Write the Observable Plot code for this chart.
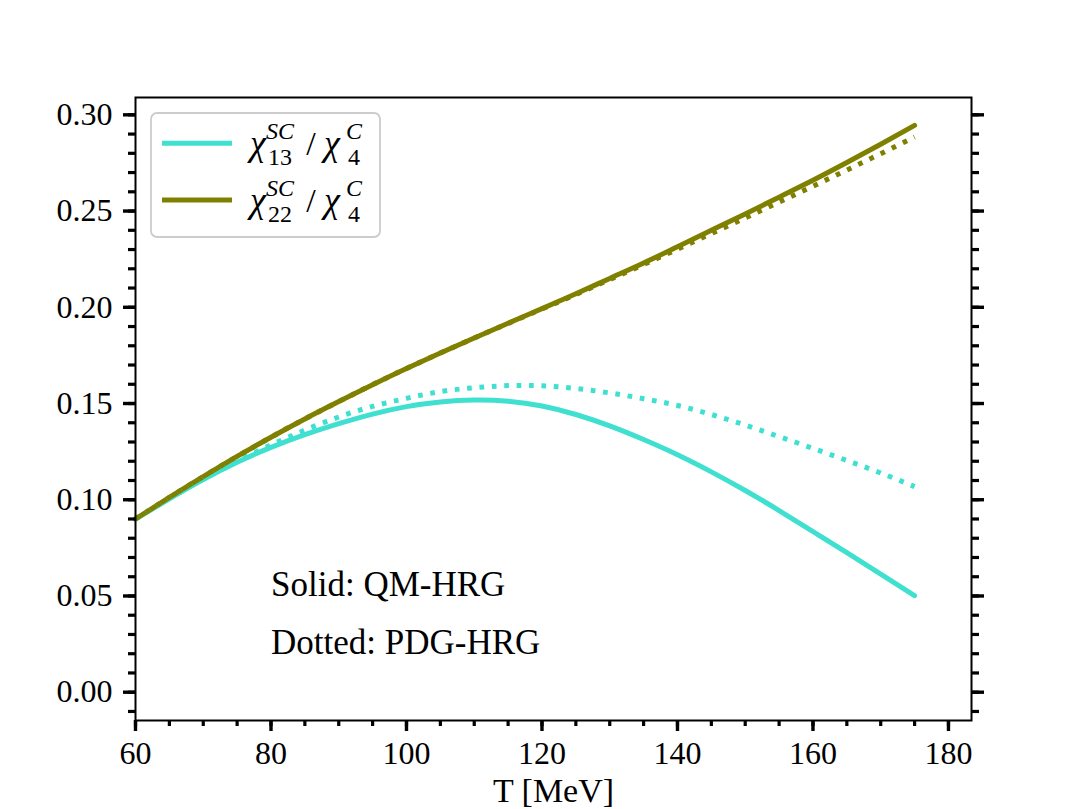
<!DOCTYPE html>
<html>
<head>
<meta charset="utf-8">
<script src="https://cdn.jsdelivr.net/npm/d3@7"></script>
<script src="https://cdn.jsdelivr.net/npm/@observablehq/plot@0.6"></script>
<style>
  html, body { margin: 0; padding: 0; background: white; overflow: hidden; }
  #chart { width: 1079px; height: 809px; }
</style>
</head>
<body>
<div id="chart"></div>
<script>
// ---- data ----
const T = [60,65,70,75,80,85,90,95,100,105,110,115,120,125,130,135,140,145,150,155,160,165,170,175];
const qmChi13 = [0.0900,0.1005,0.1105,0.1195,0.1272,0.1338,0.1395,0.1445,0.1484,0.1508,0.1518,0.1512,0.1487,0.1443,0.1384,0.1313,0.1234,0.1145,0.1048,0.0944,0.0835,0.0725,0.0614,0.0502];
const qmChi22 = [0.0900,0.1012,0.1120,0.1225,0.1325,0.1420,0.1510,0.1598,0.1682,0.1762,0.1840,0.1917,0.1993,0.2070,0.2150,0.2230,0.2315,0.2400,0.2485,0.2572,0.2660,0.2752,0.2847,0.2945];
const pdgChi13 = [0.0900,0.1007,0.1107,0.1200,0.1285,0.1362,0.1430,0.1485,0.1527,0.1562,0.1582,0.1593,0.1592,0.1578,0.1555,0.1525,0.1490,0.1443,0.1388,0.1328,0.1267,0.1204,0.1139,0.1068];
const pdgChi22 = [0.0900,0.1012,0.1120,0.1225,0.1325,0.1420,0.1510,0.1598,0.1682,0.1762,0.1840,0.1916,0.1991,0.2066,0.2144,0.2222,0.2302,0.2383,0.2464,0.2546,0.2629,0.2713,0.2798,0.2885];

const xMajorTicks = [60,80,100,120,140,160,180];
const xMinorTicks = d3.range(60, 185, 5);
const yMajorTicks = [0.00,0.05,0.10,0.15,0.20,0.25,0.30];
const yMinorTicks = d3.range(-1, 31, 1).map(d => d / 100);

const xLabel = "T [MeV]";
const notes = [
  {T: 80, v: 0.05, text: "Solid: QM-HRG"},
  {T: 80, v: 0.02, text: "Dotted: PDG-HRG"}
];
const legendItems = [
  {color: "#40E0D0", sub: "13"},
  {color: "#808000", sub: "22"}
];

const TEAL = "#40E0D0";
const OLIVE = "#808000";
const FONT = "'Liberation Serif', 'DejaVu Serif', serif";

const rows = (vals) => T.map((t, i) => ({T: t, v: vals[i]}));

const lineW = 5;
const dotPattern = "4.7,7.7";

const plot = Plot.plot({
  width: 1079,
  height: 809,
  marginLeft: 135,
  marginRight: 108,
  marginTop: 97,
  marginBottom: 89,
  style: {fontFamily: FONT, fontSize: "32px", background: "white", color: "black", overflow: "visible"},
  x: {domain: [60, 183.4]},
  y: {domain: [-0.0147, 0.309]},
  marks: [
    Plot.line(rows(qmChi13), {x: "T", y: "v", stroke: TEAL, strokeWidth: lineW, curve: "natural"}),
    Plot.line(rows(qmChi22), {x: "T", y: "v", stroke: OLIVE, strokeWidth: lineW, curve: "natural"}),
    Plot.line(rows(pdgChi13), {x: "T", y: "v", stroke: TEAL, strokeWidth: lineW, curve: "natural", strokeDasharray: dotPattern, strokeLinecap: "butt"}),
    Plot.line(rows(pdgChi22), {x: "T", y: "v", stroke: OLIVE, strokeWidth: lineW, curve: "natural", strokeDasharray: dotPattern, strokeLinecap: "butt"}),
    Plot.text(notes, {x: "T", y: "v", text: "text", textAnchor: "start", lineAnchor: "bottom", fontSize: 35, fill: "black"}),
    // minor ticks
    Plot.axisX({ticks: xMinorTicks, tickSize: 6, strokeWidth: 3.2, fill: "none", label: null}),
    Plot.axisY({anchor: "left", ticks: yMinorTicks, tickSize: 7, strokeWidth: 3.2, fill: "none", label: null}),
    Plot.axisY({anchor: "right", ticks: yMinorTicks, tickSize: 7, strokeWidth: 3.2, fill: "none", label: null}),
    // major ticks
    Plot.axisX({ticks: xMajorTicks, tickSize: 11, tickPadding: 10, strokeWidth: 3.4, tickFormat: d3.format("d"), label: null, fontSize: 32}),
    Plot.axisY({anchor: "left", ticks: yMajorTicks, tickSize: 12, tickPadding: 11, strokeWidth: 3.4, tickFormat: d3.format(".2f"), label: null, fontSize: 32}),
    Plot.axisY({anchor: "right", ticks: yMajorTicks, tickSize: 12, strokeWidth: 3.4, fill: "none", label: null}),
    Plot.text([xLabel], {frameAnchor: "bottom", dy: 81, lineAnchor: "bottom", text: d => d, fontSize: 34, fill: "black"}),
    Plot.frame({stroke: "black", strokeWidth: 2})
  ]
});

document.getElementById("chart").appendChild(plot);

// ---- legend (inside the axes, upper left) ----
const svg = d3.select(plot);
const lg = svg.append("g").attr("font-family", FONT).attr("fill", "black");
lg.append("rect")
  .attr("x", 151).attr("y", 113).attr("width", 229).attr("height", 124)
  .attr("rx", 6).attr("ry", 6)
  .attr("fill", "white").attr("fill-opacity", 0.8)
  .attr("stroke", "#cccccc").attr("stroke-width", 1.8);

legendItems.forEach((it, i) => {
  const cy = 143.3 + i * 56.7;
  lg.append("line")
    .attr("x1", 162).attr("x2", 232).attr("y1", cy).attr("y2", cy)
    .attr("stroke", it.color).attr("stroke-width", lineW);
  const base = cy + 12;
  const txt = lg.append("text");
  const span = (x, y, s, size, italic) => txt.append("tspan")
    .attr("x", x).attr("y", y).attr("font-size", size)
    .attr("font-style", italic ? "italic" : "normal").text(s);
  span(258, base, "χ", 36, true);
  span(280, base - 16, "SC", 24, true);
  span(280, base + 10, it.sub, 24, false);
  span(311, base, "/", 34, false);
  span(332, base, "χ", 36, true);
  span(354, base - 16, "C", 24, true);
  span(354, base + 10, "4", 24, false);
});
</script>
</body>
</html>
